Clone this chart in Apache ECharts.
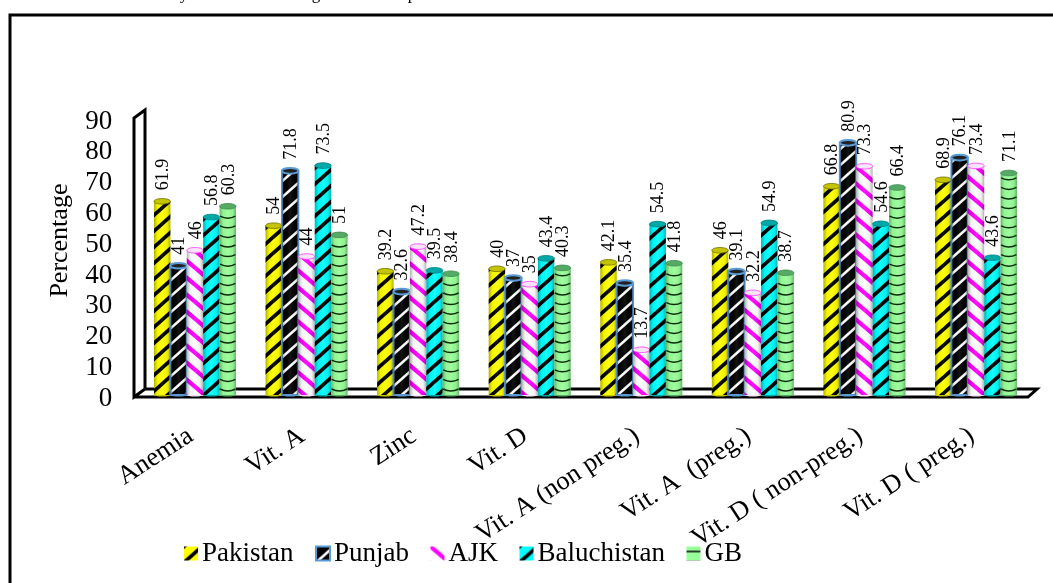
<!DOCTYPE html>
<html>
<head>
<meta charset="utf-8">
<title>Deficiency by region</title>
<style>
  html, body { margin: 0; padding: 0; background: #fff; }
  #chart { width: 1053px; height: 583px; }
</style>
<script src="https://cdn.jsdelivr.net/npm/echarts@6/dist/echarts.min.js"></script>
</head>
<body>
<div id="chart"></div>
<script>
var categories = ['Anemia', 'Vit. A', 'Zinc', 'Vit. D', 'Vit. A (non preg.)', 'Vit. A  (preg.)', 'Vit. D ( non-preg.)', 'Vit. D ( preg.)'];
var yTicks = [0, 10, 20, 30, 40, 50, 60, 70, 80, 90];
var pakistan = [61.9, 54, 39.2, 40, 42.1, 46, 66.8, 68.9];
var punjab = [41, 71.8, 32.6, 37, 35.4, 39.1, 80.9, 76.1];
var ajk = [46, 44, 47.2, 35, 13.7, 32.2, 73.3, 73.4];
var baluchistan = [56.8, 73.5, 39.5, 43.4, 54.5, 54.9, 54.6, 43.6];
var gb = [60.3, 51, 38.4, 40.3, 41.8, 38.7, 66.4, 71.1];
var seriesNames = ['Pakistan', 'Punjab', 'AJK', 'Baluchistan', 'GB'];
var seriesValues = [pakistan, punjab, ajk, baluchistan, gb];

var serif = '"Liberation Serif", "Times New Roman", serif';

// striped fill, dir 1 = "/" and -1 = "\", dir 0 = flat lines
function stripes(bg, fg, thick, period, dir) {
    var c = document.createElement('canvas');
    var w = dir ? Math.round(period * 1.15) : 8;
    c.width = w;
    c.height = period;
    var ctx = c.getContext('2d');
    ctx.fillStyle = bg;
    ctx.fillRect(0, 0, w, period);
    ctx.strokeStyle = fg;
    ctx.lineWidth = thick;
    for (var k = -3; k <= 3; k++) {
        ctx.beginPath();
        if (dir > 0) {
            ctx.moveTo(-w, 2 * period + k * period);
            ctx.lineTo(2 * w, -period + k * period);
        } else if (dir < 0) {
            ctx.moveTo(-w, -period + k * period);
            ctx.lineTo(2 * w, 2 * period + k * period);
        } else {
            ctx.moveTo(0, period / 2 + k * period);
            ctx.lineTo(w, period / 2 + k * period);
        }
        ctx.stroke();
    }
    return { image: c, repeat: 'repeat' };
}

var fills = [
    stripes('#ffff00', '#000000', 3.6, 16, 1),
    stripes('#000000', '#ffffff', 2.6, 16, 1),
    stripes('#ffffff', '#ff00ff', 4.2, 17, -1),
    stripes('#00ffff', '#000000', 3.6, 16, 1),
    stripes('#99ff99', '#000000', 1.5, 10, 0)
];
var capColors = ['#c4c400', '#222222', '#fbe3fb', '#00a8a8', '#55aa66'];
var capStrokes = ['#6e6e00', '#5b9bd5', '#ff33ff', '#007f7f', '#3c8a4c'];
var borders = [null, '#5b9bd5', null, null, null];

var shade = {
    type: 'linear', x: 0, y: 0, x2: 1, y2: 0,
    colorStops: [
        { offset: 0, color: 'rgba(0,0,0,0.30)' },
        { offset: 0.22, color: 'rgba(0,0,0,0.04)' },
        { offset: 0.5, color: 'rgba(255,255,255,0.08)' },
        { offset: 0.8, color: 'rgba(0,0,0,0.05)' },
        { offset: 1, color: 'rgba(0,0,0,0.30)' }
    ]
};

function cylinder(s) {
    return function (params, api) {
        var band = api.size([1, 0])[0];
        var w = band * 0.147;
        var top = api.coord([api.value(0), api.value(1)]);
        var bottom = api.coord([api.value(0), 0]);
        var x = top[0] + (s - 2) * w - w / 2;
        var cx = x + w / 2;
        var y1 = bottom[1] + 3;
        var border = borders[s];
        var isGb = seriesNames[s] === 'GB';
        var kids = [
            { type: 'ellipse', shape: { cx: cx, cy: y1, rx: w / 2, ry: 1.5 }, style: { fill: border || capColors[s] } },
            {
                type: 'rect',
                shape: { x: x, y: top[1], width: w, height: y1 - top[1] },
                style: { fill: isGb ? '#99ff99' : fills[s], stroke: border, lineWidth: border ? 2 : 0 }
            },
            { type: 'rect', shape: { x: x, y: top[1], width: w, height: y1 - top[1] }, style: { fill: shade } }
        ];
        if (isGb) {
            // disc rims on the green cylinders
            for (var ly = y1 - 5; ly > top[1] + 5; ly -= 9.6) {
                kids.push({
                    type: 'bezierCurve',
                    shape: { x1: x + 0.5, y1: ly - 1, cpx1: cx, cpy1: ly + 3, x2: x + w - 0.5, y2: ly - 1 },
                    style: { fill: null, stroke: '#0a2a0a', lineWidth: 1.5 }
                });
            }
        }
        kids.push({
            type: 'ellipse',
            shape: { cx: cx, cy: top[1], rx: w / 2, ry: 2.8 },
            style: { fill: capColors[s], stroke: capStrokes[s], lineWidth: border ? 2 : 0.8 }
        });
        kids.push({
            type: 'text',
            z2: 100,
            x: cx + 1,
            y: top[1] - 11,
            rotation: Math.PI / 2,
            style: {
                text: String(api.value(1)),
                font: '18px ' + serif,
                fill: '#000',
                textAlign: 'left',
                textVerticalAlign: 'middle'
            }
        });
        return { type: 'group', children: kids };
    };
}

var series = seriesNames.map(function (name, s) {
    return {
        type: 'custom',
        name: name,
        renderItem: cylinder(s),
        encode: { x: 0, y: 1 },
        data: seriesValues[s].map(function (v, i) { return [i, v]; }),
        itemStyle: { color: fills[s], borderColor: borders[s] || 'transparent', borderWidth: borders[s] ? 2 : 0 }
    };
});

function line(points, width) {
    return {
        type: 'polyline',
        shape: { points: points },
        style: { fill: null, stroke: '#000', lineWidth: width, lineJoin: 'miter' },
        silent: true
    };
}
function stray(letter, x) {
    return {
        type: 'text', x: x, y: 3, silent: true,
        style: { text: letter, font: '17px ' + serif, fill: '#000', textAlign: 'center', textVerticalAlign: 'bottom' }
    };
}

var yMin = yTicks[0];
var yMax = yTicks[yTicks.length - 1];

var chart = echarts.init(document.getElementById('chart'));
chart.setOption({
    animation: false,
    backgroundColor: '#fff',
    // bars stand on the back floor line, the tick labels
    grid: [
        { left: 139.2, width: 892.6, top: 114.8, height: 277.2 },
        { left: 139.2, width: 892.6, top: 121.5, height: 277.2 }
    ],
    xAxis: [
        {
            type: 'category',
            data: categories,
            axisLine: { show: false },
            axisTick: { show: false },
            axisLabel: { rotate: 33, interval: 0, margin: 39, color: '#000', fontFamily: serif, fontSize: 26.5, padding: [0, 5, 0, 0] }
        },
        { gridIndex: 1, type: 'category', data: categories, show: false }
    ],
    yAxis: [
        { type: 'value', min: yMin, max: yMax, interval: 10, show: false },
        {
            gridIndex: 1,
            type: 'value',
            min: yMin,
            max: yMax,
            interval: 10,
            name: 'Percentage',
            nameLocation: 'middle',
            nameRotate: 90,
            nameGap: 66,
            nameTextStyle: { color: '#000', fontFamily: serif, fontSize: 26, padding: [0, 0, 0, 39] },
            axisLine: { show: false },
            axisTick: { show: false },
            splitLine: { show: false },
            axisLabel: { margin: 27, color: '#000', fontFamily: serif, fontSize: 27 }
        }
    ],
    legend: {
        data: seriesNames,
        left: 184,
        top: 540,
        padding: 0,
        icon: 'rect',
        itemWidth: 14,
        itemHeight: 14,
        itemGap: 21.5,
        textStyle: { color: '#000', fontFamily: serif, fontSize: 27, padding: [0, 0, 0, -1] }
    },
    graphic: [
        line([[10, 583], [10, 15], [1053, 15]], 3),
        line([[134, 397], [1028, 397], [1037, 389], [145, 389], [145, 110], [134, 118], [134, 397], [145, 389]], 3),
        stray('y', 184),
        stray('g', 316),
        stray('p', 412)
    ],
    series: series
});
window.addEventListener('resize', function () {
    chart.resize();
});
</script>
</body>
</html>
